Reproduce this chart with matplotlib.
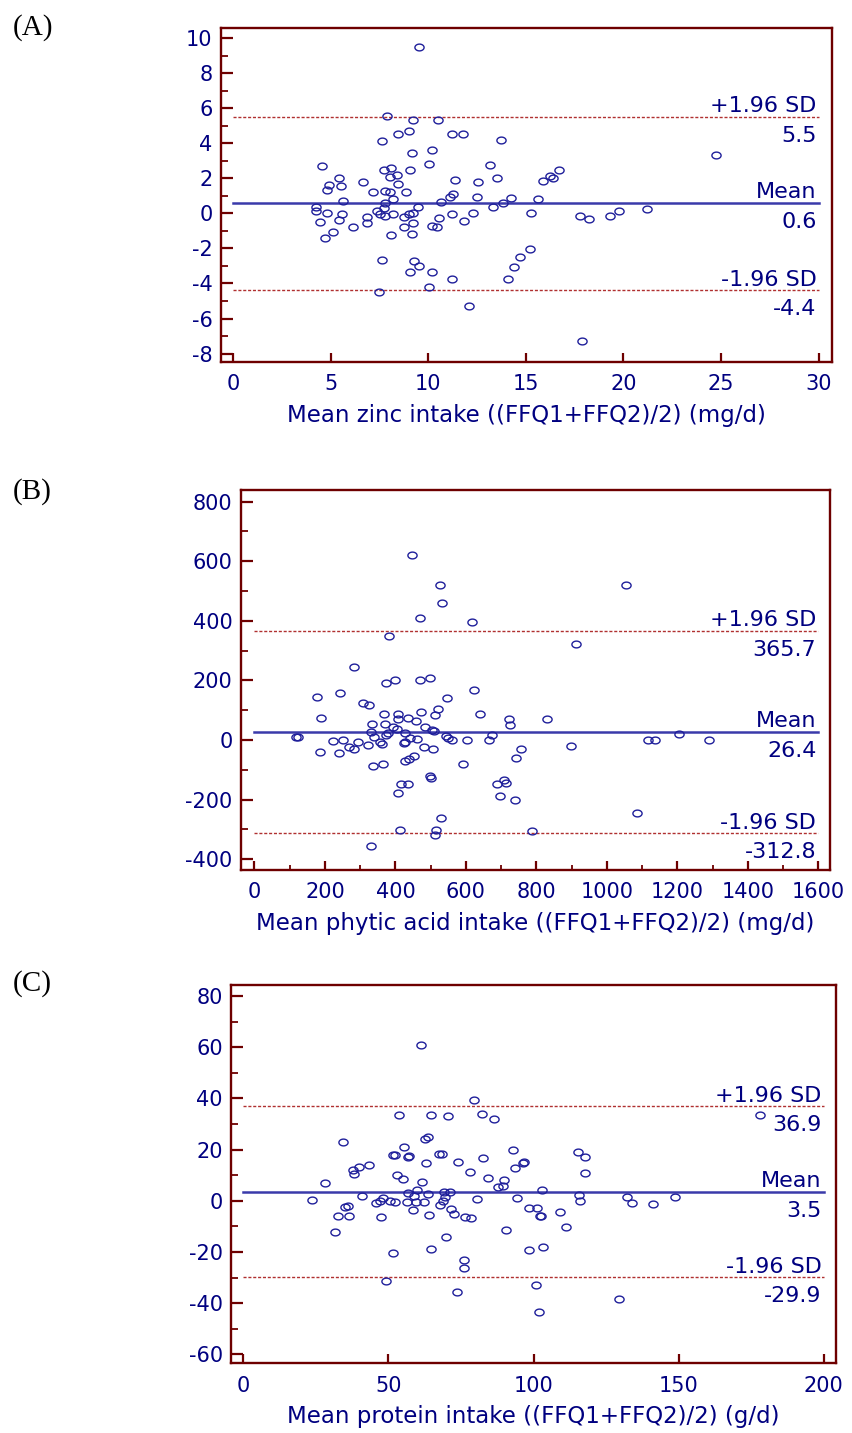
import numpy as np
import matplotlib
matplotlib.use('Agg')
import matplotlib.pyplot as plt
from matplotlib.path import Path
from matplotlib.ticker import MultipleLocator

plt.rcParams['font.family'] = 'DejaVu Sans'
plt.rcParams['axes.unicode_minus'] = False

# (A) zinc
zinc_mean = [9.54, 7.90, 9.23, 10.48, 7.63, 8.45, 9.00, 11.23, 11.80, 13.71, 9.18, 10.19, 10.04, 4.53,
             7.73, 8.09, 9.04, 8.38, 8.05, 13.15, 13.50, 11.35, 12.53, 5.44, 4.92, 5.54, 4.82, 6.63,
             8.45, 7.18, 7.78, 8.02, 8.84, 8.17, 5.64, 7.76, 7.73, 7.35, 7.52, 7.78, 8.19, 8.74, 9.01,
             9.23, 9.45, 4.22, 4.22, 4.79, 5.59, 4.46, 5.42, 6.12, 6.84, 6.87, 5.13, 4.72, 8.07, 8.74,
             9.23, 9.15, 10.19, 10.45, 10.55, 10.64, 11.11, 11.25, 11.20, 11.85, 12.31, 12.50, 13.33,
             13.85, 14.21, 15.25, 15.64, 15.90, 16.21, 16.41, 16.72, 17.78, 18.21, 19.32, 19.76, 21.22,
             24.75, 7.63, 9.28, 9.51, 9.08, 10.19, 11.20, 10.04, 7.46, 12.09, 14.09, 14.40, 14.70,
             15.22, 17.87]
zinc_diff = [9.49, 5.54, 5.31, 5.35, 4.11, 4.51, 4.69, 4.55, 4.51, 4.17, 3.46, 3.60, 2.83, 2.72,
             2.47, 2.59, 2.47, 2.19, 2.06, 2.78, 2.00, 1.90, 1.79, 2.04, 1.64, 1.56, 1.31, 1.79,
             1.67, 1.20, 1.28, 1.20, 1.20, 0.80, 0.70, 0.57, 0.32, 0.11, -0.04, -0.13, -0.06, -0.21, -0.04,
             0.00, 0.38, 0.38, 0.15, 0.02, -0.06, -0.50, -0.38, -0.78, -0.21, -0.54, -1.09, -1.43, -1.26, -0.78,
             -0.54, -1.16, -0.74, -0.78, -0.27, 0.66, 0.93, 1.10, -0.06, -0.46, 0.02, 0.91, 0.38,
             0.61, 0.87, 0.02, 0.80, 1.83, 2.11, 2.00, 2.47, -0.13, -0.34, -0.13, 0.15, 0.26,
             3.31, -2.69, -2.73, -3.03, -3.37, -3.33, -3.77, -4.23, -4.46, -5.26, -3.74, -3.07, -2.50,
             -2.02, -7.28]
zinc_limits = [5.5, 0.6, -4.4]

# (B) phytic acid
phytic_mean = [446, 526, 532, 471, 616, 383, 284, 374, 399, 471, 499, 623, 178, 242, 188, 307, 325,
               546, 368, 408, 408, 436, 458, 474, 511, 520, 371, 335, 392, 404, 483, 505, 509, 639,
               721, 726, 829, 378, 374, 332, 338, 426, 427, 424, 442, 462, 545, 549, 561, 602, 666,
               675, 123, 119, 222, 251, 269, 282, 293, 323, 355, 361, 187, 240, 481, 506, 454, 439,
               428, 336, 366, 591, 499, 502, 415, 436, 408, 709, 689, 715, 698, 740, 755, 741, 529,
               414, 514, 511, 788, 330, 1053, 913, 899, 1116, 1136, 1205, 1290, 1085]
phytic_diff = [622, 519, 461, 410, 397, 349, 245, 190, 201, 201, 209, 169, 145, 157, 73, 125, 118,
               140, 89, 87, 70, 74, 63, 95, 85, 103, 55, 55, 45, 36, 44, 34, 30, 87,
               70, 51, 70, 25, 17, 28, 9, 23, -7, -11, 6, 3, 14, 6, 0, 0, 0,
               17, 11, 11, -4, -1, -22, -29, -7, -18, -8, -13, -40, -43, -23, -31, -54, -65,
               -69, -87, -82, -79, -121, -126, -147, -149, -178, -133, -147, -143, -187, -202, -29, -60, -262,
               -302, -302, -318, -304, -356, 519, 321, -19, 0, 0, 21, 0, -244]
phytic_limits = [365.7, 26.4, -312.8]

# (C) protein
protein_mean = [61.1, 79.6, 53.7, 64.5, 70.6, 82.2, 86.3, 34.4, 62.5, 63.7, 55.3, 51.4, 52.2, 57.1,
                56.9, 67.4, 68.6, 93.0, 82.7, 74.1, 62.8, 96.3, 96.7, 93.7, 43.3, 39.8, 37.9, 38.0,
                78.1, 52.9, 55.1, 84.2, 89.8, 89.6, 87.7, 61.6, 28.0, 59.8, 56.8, 58.8, 63.6, 69.3,
                71.3, 69.5, 40.9, 23.7, 48.0, 47.0, 45.6, 50.6, 52.1, 56.4, 59.5, 62.2, 68.7, 67.7,
                80.5, 94.2, 102.9, 58.4, 35.0, 36.1, 32.5, 36.4, 47.3, 63.9, 71.4, 72.6, 76.4, 78.6,
                98.4, 101.1, 102.1, 102.6, 31.6, 69.8, 90.6, 64.7, 51.7, 75.9, 76.1, 98.6, 103.3,
                49.3, 73.7, 100.9, 102.0, 109.1, 111.1, 115.2, 117.9, 117.8, 115.8, 116.2, 132.1,
                134.0, 141.3, 148.8, 129.4, 178.1]
protein_diff = [60.8, 39.3, 33.5, 33.5, 33.2, 33.7, 31.8, 22.8, 24.1, 24.8, 20.9, 17.9, 17.7, 17.6,
                17.1, 18.4, 18.4, 19.9, 16.8, 15.2, 14.7, 14.9, 15.3, 12.8, 14.1, 13.2, 12.1, 10.5,
                11.2, 10.0, 8.4, 9.0, 8.1, 5.9, 5.2, 7.2, 6.9, 4.1, 3.0, 2.0, 2.5, 3.4,
                3.5, 1.6, 1.8, 0.3, 0.9, -0.2, -0.9, -0.2, -0.6, -0.6, -0.5, -0.6, -0.1, -1.6,
                0.7, 0.9, 4.1, -3.6, -2.5, -1.9, -6.0, -6.0, -6.5, -5.6, -3.1, -5.1, -6.4, -6.9,
                -2.7, -2.9, -6.0, -6.0, -12.3, -14.1, -11.4, -19.0, -20.6, -23.0, -26.2, -19.3, -18.1,
                -31.5, -35.8, -32.9, -43.4, -4.4, -10.3, 19.0, 17.2, 10.9, 2.2, 0.0, 1.6,
                -0.8, -1.2, 1.6, -38.5, 33.5]
protein_limits = [36.9, 3.5, -29.9]

navy = '#000080'
maroon = '#6e0000'
pt_col = '#1e1e9a'

t = np.linspace(0, 2 * np.pi, 64)
ellipse = Path(np.column_stack([np.cos(t), 0.74 * np.sin(t)]), closed=True)

fig = plt.figure(figsize=(8.52, 14.33), dpi=100)


def panel(rect, x, y, limits, xlim, ylim, xmaj, xmin, ymaj, ymin, xmax, xlabel, tag, tag_y):
    ax = fig.add_axes(rect)
    ax.plot(x, y, linestyle='none', marker=ellipse, ms=6.6, mfc='none', mec=pt_col, mew=1.0, zorder=3)
    up, mid, lo = limits
    ax.plot([0, xmax], [mid, mid], color='#3a3aaa', lw=1.8, zorder=2)
    for v in (up, lo):
        ax.plot([0, xmax], [v, v], color='#b03030', lw=1.0, dashes=(2.2, 1.3), zorder=2)
    names = ['+1.96 SD', 'Mean', '-1.96 SD']
    for v, name in zip(limits, names):
        ax.annotate(name, (xmax, v), xytext=(-1.5, 3.4), textcoords='offset points',
                    ha='right', va='baseline', fontsize=16, color=navy)
        ax.annotate('%.1f' % v, (xmax, v), xytext=(-1.5, -6.5), textcoords='offset points',
                    ha='right', va='top', fontsize=16, color=navy)
    ax.set_xlim(*xlim)
    ax.set_ylim(*ylim)
    ax.xaxis.set_major_locator(MultipleLocator(xmaj))
    if xmin:
        ax.xaxis.set_minor_locator(MultipleLocator(xmin))
    ax.yaxis.set_major_locator(MultipleLocator(ymaj))
    ax.yaxis.set_minor_locator(MultipleLocator(ymin))
    for s in ax.spines.values():
        s.set_color(maroon)
        s.set_linewidth(1.7)
    ax.tick_params(axis='y', which='major', direction='in', length=8.5, width=1.6, color=maroon,
                   labelsize=15, labelcolor=navy, pad=6)
    ax.tick_params(axis='y', which='minor', direction='in', length=4.7, width=1.3, color=maroon)
    ax.tick_params(axis='x', which='major', direction='in', length=6.3, width=1.6, color=maroon,
                   labelsize=15, labelcolor=navy, pad=9)
    ax.tick_params(axis='x', which='minor', direction='in', length=3.6, width=1.3, color=maroon)
    ax.set_xlabel(xlabel, fontsize=16.5, color=navy, labelpad=7)
    fig.text(13 / 852, 1 - tag_y / 1433, tag, fontsize=21, family='Liberation Serif',
             ha='left', va='center')
    return ax


panel([221 / 852, 1 - 362 / 1433, 611 / 852, 334 / 1433], zinc_mean, zinc_diff, zinc_limits,
      (-0.63, 30.69), (-8.48, 10.57), 5, None, 2, 1, 30,
      'Mean zinc intake ((FFQ1+FFQ2)/2) (mg/d)', '(A)', 28)
panel([241 / 852, 1 - 870 / 1433, 589 / 852, 380 / 1433], phytic_mean, phytic_diff, phytic_limits,
      (-38, 1633), (-436, 839), 200, 100, 200, 100, 1600,
      'Mean phytic acid intake ((FFQ1+FFQ2)/2) (mg/d)', '(B)', 492)
panel([231 / 852, 1 - 1363 / 1433, 605 / 852, 378 / 1433], protein_mean, protein_diff, protein_limits,
      (-4.3, 204.3), (-63.4, 84.3), 50, None, 20, 10, 200,
      'Mean protein intake ((FFQ1+FFQ2)/2) (g/d)', '(C)', 984)

fig.savefig('out.png', dpi=100)
